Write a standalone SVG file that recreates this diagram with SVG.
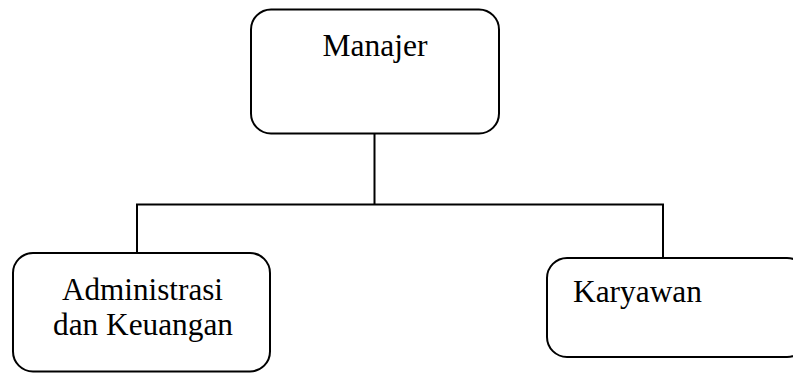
<svg xmlns="http://www.w3.org/2000/svg" width="793" height="373" viewBox="0 0 793 373">
<style>
.box{fill:#fff;stroke:#000;stroke-width:2}
.conn{fill:none;stroke:#000;stroke-width:2}
text{font-family:"Liberation Serif","Times New Roman",serif;font-size:32px;fill:#000}
</style>
<rect width="793" height="373" fill="#fff"/>
<g id="connectors">
<path class="conn" d="M374.5 134 V204.5 M137 253 V204.5 H663 V258"/>
</g>
<g id="manajer">
<rect class="box" x="251" y="9.5" width="248" height="124" rx="20"/>
<text x="375" y="56" text-anchor="middle" textLength="105" lengthAdjust="spacingAndGlyphs">Manajer</text>
</g>
<g id="administrasi">
<rect class="box" x="13" y="253" width="257" height="118.5" rx="20"/>
<text x="142.5" y="300" text-anchor="middle" textLength="161" lengthAdjust="spacingAndGlyphs">Administrasi</text>
<text x="143" y="335" text-anchor="middle" textLength="180" lengthAdjust="spacingAndGlyphs">dan Keuangan</text>
</g>
<g id="karyawan">
<rect class="box" x="547" y="258" width="260" height="99" rx="20"/>
<text x="573" y="302" textLength="129" lengthAdjust="spacingAndGlyphs">Karyawan</text>
</g>
</svg>
